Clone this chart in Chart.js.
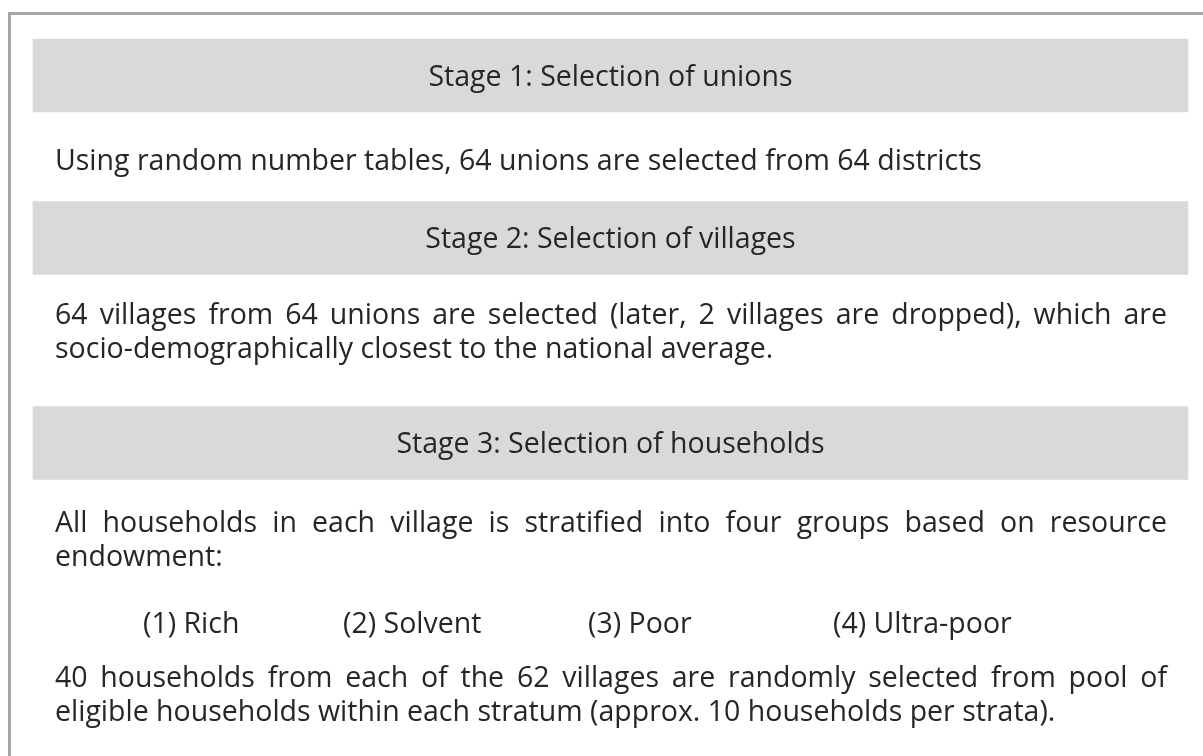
<!DOCTYPE html>
<html>
<head>
<meta charset="utf-8">
<script src="https://cdn.jsdelivr.net/npm/chart.js@4/dist/chart.umd.min.js"></script>
<style>
    html, body { margin: 0; padding: 0; background: #fff; }
    #wrap { position: relative; width: 1203px; height: 756px; overflow: hidden; }
    #frame {
        position: absolute; left: 8px; top: 12px; width: 1400px; height: 900px;
        border: 3px solid #a6a6a6; box-sizing: border-box;
    }
    #bands { position: absolute; left: 0; top: 0; }
    .txt {
        position: absolute; font-family: "Open Sans", sans-serif; font-size: 28.5px;
        line-height: 34px; color: #262626; white-space: nowrap;
    }
    .title { text-align: center; }
    .para { white-space: normal; text-align: justify; width: 1112px; left: 55px; }
</style>
</head>
<body>
<div id="wrap">
    <div id="frame"></div>
    <canvas id="bands" width="1203" height="756"></canvas>
    <div id="texts"></div>
</div>
<script>
    // stage header bands (page units, y measured from top)
    const stageTitles = ['Stage 1: Selection of unions', 'Stage 2: Selection of villages', 'Stage 3: Selection of households'];
    const bandCenters = [75.5, 238, 443];
    const bandFrom = [33, 33, 33];
    const bandTo = [1188, 1188, 1188];

    const stageTexts = [
        'Using random number tables, 64 unions are selected from 64 districts',
        '64 villages from 64 unions are selected (later, 2 villages are dropped), which are socio-demographically closest to the national average.',
        'All households in each village is stratified into four groups based on resource endowment:'
    ];
    const strata = ['(1) Rich', '(2) Solvent', '(3) Poor', '(4) Ultra-poor'];
    const finalText = '40 households from each of the 62 villages are randomly selected from pool of eligible households within each stratum (approx. 10 households per strata).';

    new Chart(document.getElementById('bands'), {
        type: 'bar',
        data: {
            datasets: [{
                data: bandCenters.map(function (c, i) {
                    return { y: c, x: [bandFrom[i], bandTo[i]] };
                }),
                backgroundColor: '#d9d9d9',
                borderWidth: 0,
                barThickness: 73
            }]
        },
        options: {
            indexAxis: 'y',
            responsive: false,
            animation: false,
            layout: { padding: 0 },
            plugins: { legend: { display: false }, tooltip: { enabled: false } },
            scales: {
                x: { type: 'linear', min: 0, max: 1203, offset: false, display: false },
                y: { type: 'linear', min: 0, max: 756, reverse: true, offset: false, display: false }
            }
        }
    });

    var texts = document.getElementById('texts');
    function addText(cls, str, left, top, width) {
        var d = document.createElement('div');
        d.className = 'txt ' + cls;
        d.textContent = str;
        d.style.top = top + 'px';
        if (left !== null) d.style.left = left + 'px';
        if (width) d.style.width = width + 'px';
        texts.appendChild(d);
        return d;
    }

    // titles centred on the bands
    stageTitles.forEach(function (t, i) {
        addText('title', t, bandFrom[i], bandCenters[i] - 18, bandTo[i] - bandFrom[i]);
    });

    addText('', stageTexts[0], 55, 142);
    addText('para', stageTexts[1], null, 296);
    addText('para', stageTexts[2], null, 504);

    var strataX = [143, 343, 588, 833];
    strata.forEach(function (s, i) {
        addText('', s, strataX[i], 605);
    });

    addText('para', finalText, null, 659);
</script>
</body>
</html>
